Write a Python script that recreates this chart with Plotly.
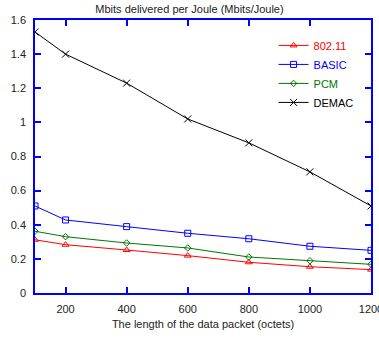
import plotly.graph_objects as go

packet_len = [100, 200, 400, 600, 800, 1000, 1200]
s80211 = [0.312, 0.283, 0.252, 0.219, 0.180, 0.154, 0.137]
basic = [0.510, 0.428, 0.389, 0.350, 0.318, 0.274, 0.250]
pcm = [0.362, 0.330, 0.293, 0.264, 0.211, 0.189, 0.168]
demac = [1.53, 1.40, 1.23, 1.02, 0.88, 0.71, 0.51]

series = [
    ("802.11", s80211, "#ff0000", "triangle-up-open", 6),
    ("BASIC", basic, "#0000ff", "square-open", 6),
    ("PCM", pcm, "#007700", "diamond-open", 5),
    ("DEMAC", demac, "#000000", "x-thin-open", 7),
]

fig = go.Figure()
for name, ys, col, sym, sz in series:
    fig.add_trace(go.Scatter(
        x=packet_len, y=ys, name=f'<span style="color:{col}">{name}</span>',
        mode="lines+markers",
        line=dict(color=col, width=1),
        marker=dict(symbol=sym, size=sz, color=col, line=dict(color=col, width=1)),
    ))

font_fam = "Liberation Sans, Arial"
axis_common = dict(
    showline=True, linecolor="#0000ff", linewidth=1.5, mirror="ticks",
    ticks="inside", tickcolor="#0000ff", ticklen=6, tickwidth=1.5,
    showgrid=False, zeroline=False, ticklabeloverflow="allow", automargin=False,
    tickfont=dict(family=font_fam, size=11, color="#222222"),
)

fig.update_layout(
    width=379, height=339,
    margin=dict(l=35, r=8, t=20, b=46),
    paper_bgcolor="white", plot_bgcolor="white",
    title=dict(text="Mbits delivered per Joule (Mbits/Joule)", x=0.5, xanchor="center",
               y=0.985, yanchor="top",
               font=dict(family=font_fam, size=11, color="#222222")),
    xaxis=dict(range=[100, 1200], tickvals=[200, 400, 600, 800, 1000, 1200],
               ticklabelstandoff=5,
               title=dict(text="The length of the data packet (octets)", standoff=6,
                          font=dict(family=font_fam, size=11, color="#222222")),
               **axis_common),
    yaxis=dict(range=[0, 1.6], tickvals=[0, 0.2, 0.4, 0.6, 0.8, 1, 1.2, 1.4, 1.6],
               ticktext=["0", "0.2", "0.4", "0.6", "0.8", "1", "1.2", "1.4", "1.6"],
               ticklabelstandoff=5,
               **axis_common),
    legend=dict(x=0.71, y=0.96, xanchor="left", yanchor="top",
                bgcolor="rgba(0,0,0,0)", tracegroupgap=0, itemwidth=30,
                font=dict(family=font_fam, size=11)),
    showlegend=True,
)

fig.write_html("out.html")
